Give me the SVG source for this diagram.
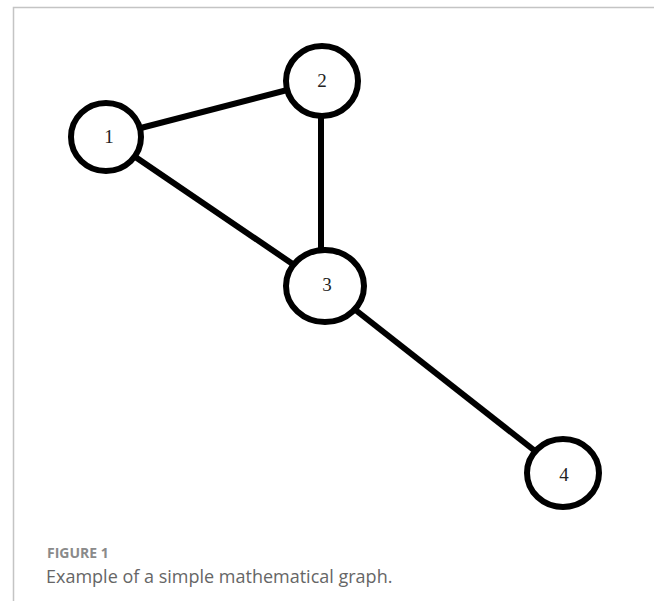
<svg xmlns="http://www.w3.org/2000/svg" width="654" height="601" viewBox="0 0 654 601">
<style>
.node circle,.node ellipse{fill:#fff;stroke:#000;stroke-width:6}
.node text{font-family:"Liberation Serif",serif;font-size:19px;fill:#222;text-anchor:middle;dominant-baseline:central}
.edges line{stroke:#000;stroke-width:6;stroke-linecap:butt}
.frame{stroke:#c4c4c4;stroke-width:1.5;fill:none}
.cap{font-family:"Open Sans",sans-serif}
</style>
<rect width="654" height="601" fill="#fff"/>
<path class="frame" d="M13.5 601 V7.5 H654"/>
<g class="edges">
<line x1="106" y1="137" x2="322" y2="81"/>
<line x1="106" y1="137" x2="325" y2="286"/>
<line x1="321" y1="81" x2="321" y2="286"/>
<line x1="325" y1="286" x2="563" y2="473"/>
</g>
<g id="n1" class="node"><ellipse cx="106" cy="137" rx="35" ry="34"/><text x="109" y="136">1</text></g>
<g id="n2" class="node"><ellipse cx="322" cy="81" rx="36" ry="35"/><text x="322" y="80">2</text></g>
<g id="n3" class="node"><ellipse cx="325" cy="286" rx="39" ry="36"/><text x="327" y="284">3</text></g>
<g id="n4" class="node"><ellipse cx="563" cy="473" rx="36" ry="34"/><text x="564" y="474">4</text></g>
<text class="cap" x="47" y="558" font-size="14" font-weight="bold" fill="#8a8a8a">FIGURE 1</text>
<text class="cap" x="46" y="583" font-size="18" fill="#666">Example of a simple mathematical graph.</text>
</svg>
